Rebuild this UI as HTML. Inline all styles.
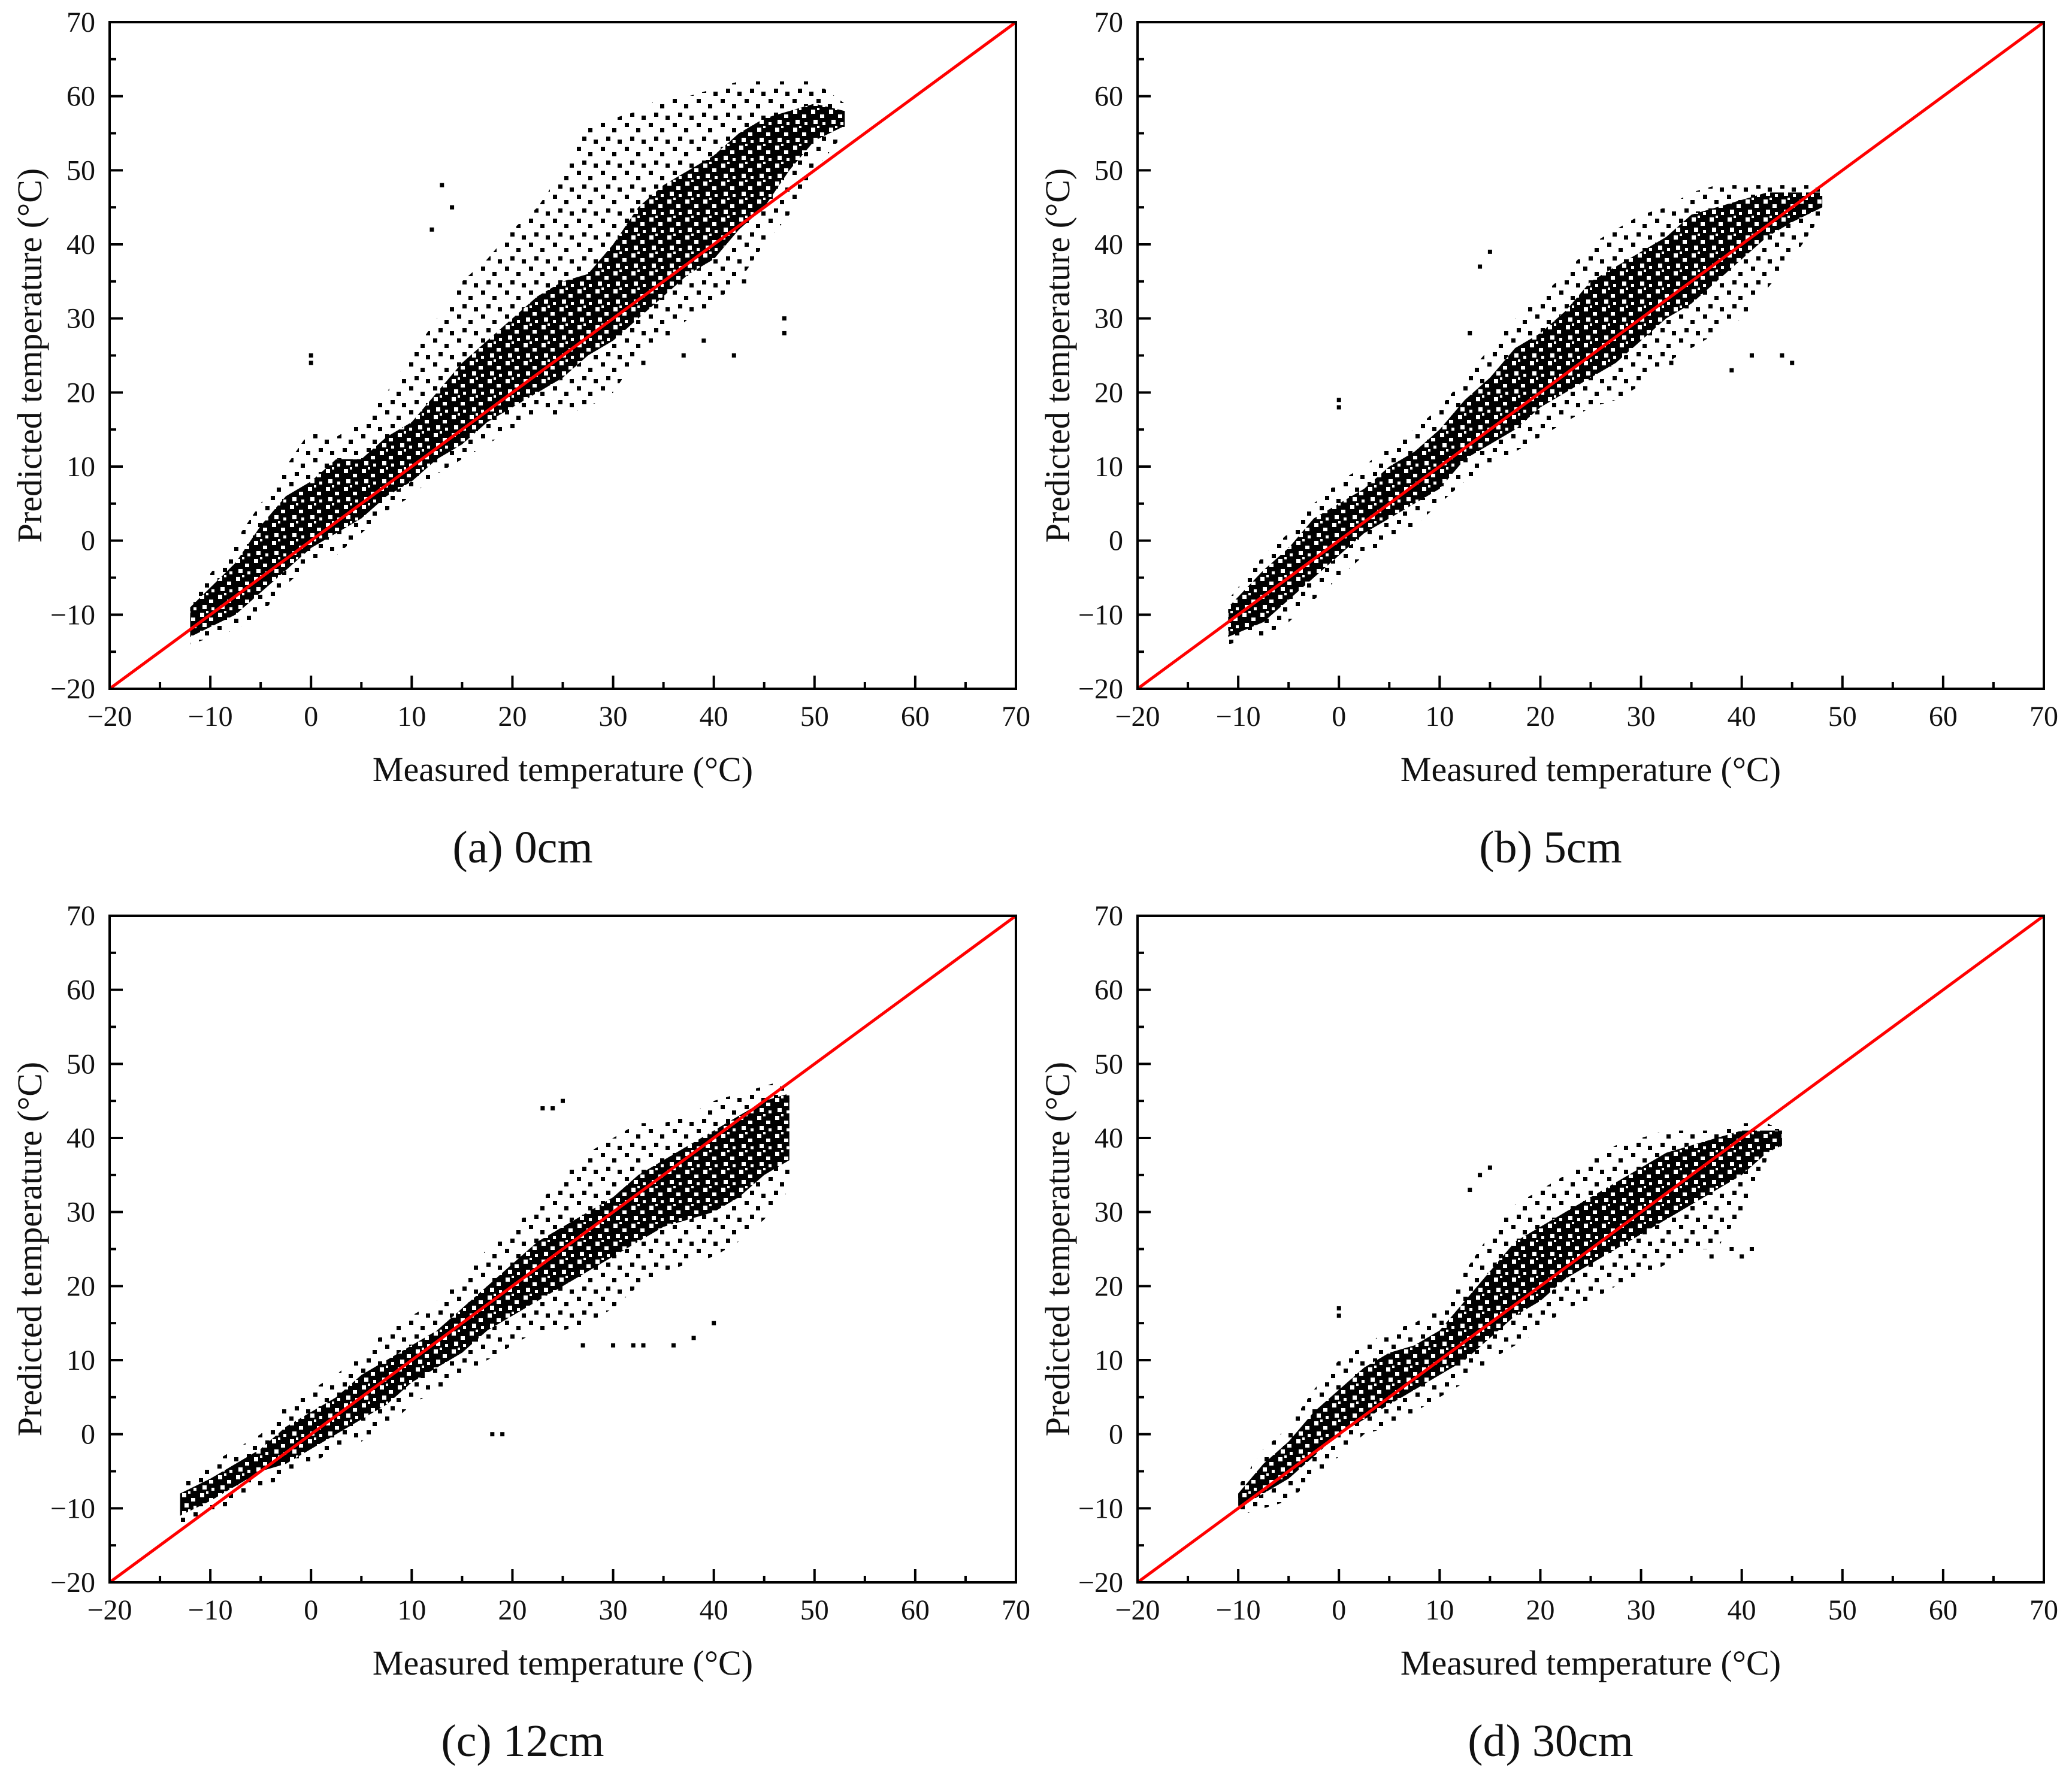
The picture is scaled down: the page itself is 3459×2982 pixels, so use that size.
<!DOCTYPE html>
<html><head><meta charset="utf-8">
<style>
html,body{margin:0;padding:0;background:#fff;}
svg{display:block;}
text{font-family:"Liberation Serif",serif;fill:#111;}
</style></head>
<body>
<svg id="fig" width="3459" height="2982" viewBox="0 0 3459 2982" xmlns="http://www.w3.org/2000/svg">
<defs>
<pattern id="sparse" width="40" height="40" patternUnits="userSpaceOnUse">
<rect x="3" y="5" width="7" height="7" fill="#000"/><rect x="22" y="14" width="7" height="7" fill="#000"/>
<rect x="12" y="28" width="7" height="7" fill="#000"/><rect x="31" y="33" width="7" height="7" fill="#000"/>
</pattern>
<pattern id="core" width="30" height="30" patternUnits="userSpaceOnUse">
<rect width="30" height="30" fill="#000"/>
<rect x="4" y="3" width="7" height="7" fill="#fff"/><rect x="19" y="11" width="7" height="6" fill="#fff"/>
<rect x="8" y="20" width="7" height="7" fill="#fff"/><rect x="23" y="24" width="5" height="5" fill="#fff"/>
<rect x="14" y="0" width="4" height="4" fill="#fff"/>
</pattern>
</defs>
</svg>
<script>
// Panel (a) 0cm
const aX    = [-12,-7.5,-5,-2.5,0,2.5,5,7.5,10,12.5,15,17.5,20,22.5,25,27.5,30,32.5,35,37.5,40,42.5,45,47.5,50,53];
const aCoreLo=[-13,-10,-7,-4,-1,1,3,6,8,11,13,16,18,20,22,25,27,30,33,36,38,42,45,50,54,56];
const aCoreHi=[-9,-3,2,6,8,11,11,14,16,20,24,27,30,33,35,36,40,45,48,50,52,55,57,58,59,58];
const aSpLo = [-14,-12,-10,-6,-3,-2,1,4,6,9,11,13,15,17,17,18,20,25,27,30,32,35,40,44,50,55];
const aSpHi = [-8,0,5,10,15,14,16,20,25,30,35,38,42,45,50,56,57,58,60,60,61,62,62,62,62,59];
const aOutX = [0,0,12,13,14,42,47,47,43,37,33,39];
const aOutY = [25,24,42,48,45,25,30,28,35,25,24,27];
// Panel (b) 5cm
const bX    = [-11,-7.5,-5,-2.5,0,2.5,5,7.5,10,12.5,15,17.5,20,22.5,25,27.5,30,32.5,35,37.5,40,42.5,45,48];
const bCoreLo=[-13,-11,-8,-5,-2,1,3,5,7,11,13,15,18,20,22,24,27,30,32,35,38,41,43,45];
const bCoreHi=[-9,-4,-1,3,5,7,10,12,15,19,22,26,28,31,35,37,39,41,44,45,46,47,47,47];
const bSpLo = [-14,-13,-11,-8,-5,-2,0,2,5,8,10,12,14,16,18,19,21,24,26,28,30,34,38,44];
const bSpHi = [-8,-2,1,5,8,10,13,15,18,22,26,30,33,36,40,42,44,45,47,48,48,48,48,48];
const bOutX = [0,0,14,15,13,44,45,39,41,33];
const bOutY = [19,18,37,39,28,25,24,23,25,24];
// Panel (c) 12cm
const cX    = [-13,-10,-7.5,-5,-2.5,0,2.5,5,7.5,10,12.5,15,17.5,20,22.5,25,27.5,30,32.5,35,37.5,40,42.5,45,47.5];
const cCoreLo=[-11,-9,-7,-5,-4,-2,0,2,4,7,9,11,14,16,18,20,22,24,26,28,29,30,32,35,37];
const cCoreHi=[-8,-6,-4,-2,1,3,5,8,10,12,14,17,20,23,26,28,30,32,35,37,39,41,43,45,46];
const cSpLo = [-12,-11,-9,-7,-6,-4,-2,-1,1,4,6,8,10,12,14,14,15,17,20,22,23,24,26,29,33];
const cSpHi = [-6,-4,-2,0,4,6,8,11,14,16,18,21,25,28,31,35,38,40,42,42,43,45,46,47,48];
const cOutX = [18,19,24,25,27,30,32,33,36,38,40,23];
const cOutY = [0,0,44,45,12,12,12,12,12,13,15,44];
// Panel (d) 30cm
const dX    = [-10,-7.5,-5,-2.5,0,2.5,5,7.5,10,12.5,15,17.5,20,22.5,25,27.5,30,32.5,35,37.5,40,42.5,44];
const dCoreLo=[-10,-8,-6,-3,0,2,4,6,8,10,13,16,18,21,23,25,27,29,31,33,35,38,39];
const dCoreHi=[-8,-4,-1,3,6,9,11,12,14,18,22,26,28,30,32,34,36,38,39,40,41,41,41];
const dSpLo = [-11,-10,-9,-6,-3,0,1,3,5,7,10,12,14,17,18,20,21,23,25,25,30,37,39];
const dSpHi = [-7,-2,1,6,10,12,14,15,17,22,27,31,33,35,37,39,40,41,41,41,42,42,41];
const dOutX = [0,0,13,14,15,39,40,41,37];
const dOutY = [17,16,33,35,36,25,24,25,24];

const yTicks = [-20,-10,0,10,20,30,40,50,60,70];
const xTicks = [-20,-10,0,10,20,30,40,50,60,70];
const tickText = ["\u221220","\u221210","0","10","20","30","40","50","60","70"];
const captions = ["(a) 0cm","(b) 5cm","(c) 12cm","(d) 30cm"];

const NS="http://www.w3.org/2000/svg";
const svg=document.getElementById('fig');
function mk(tag,attrs,parent){const e=document.createElementNS(NS,tag);for(const k in attrs)e.setAttribute(k,attrs[k]);(parent||svg).appendChild(e);return e;}

const W=1513,H=1113,VMIN=-20,VMAX=70;
const panels=[
 {L:183,T:37,x:aX,cl:aCoreLo,ch:aCoreHi,sl:aSpLo,sh:aSpHi,ox:aOutX,oy:aOutY,name:'panel-0cm'},
 {L:1899,T:37,x:bX,cl:bCoreLo,ch:bCoreHi,sl:bSpLo,sh:bSpHi,ox:bOutX,oy:bOutY,name:'panel-5cm'},
 {L:183,T:1529,x:cX,cl:cCoreLo,ch:cCoreHi,sl:cSpLo,sh:cSpHi,ox:cOutX,oy:cOutY,name:'panel-12cm'},
 {L:1899,T:1529,x:dX,cl:dCoreLo,ch:dCoreHi,sl:dSpLo,sh:dSpHi,ox:dOutX,oy:dOutY,name:'panel-30cm'}
];

panels.forEach((p,i)=>{
 const sx=v=>p.L+(v-VMIN)/(VMAX-VMIN)*W;
 const sy=v=>p.T+(VMAX-v)/(VMAX-VMIN)*H;
 const g=mk('g',{});
 
 
 function band(lo,hi,fill,nm){
  let pts=[];
  for(let k=0;k<p.x.length;k++)pts.push(sx(p.x[k])+','+sy(hi[k]));
  for(let k=p.x.length-1;k>=0;k--)pts.push(sx(p.x[k])+','+sy(lo[k]));
  const e=mk('polygon',{points:pts.join(' '),fill:fill},g);
  
  
 }
 band(p.sl,p.sh,'url(#sparse)','scatter-sparse');
 band(p.cl,p.ch,'url(#core)','scatter-core');
 for(let k=0;k<p.ox.length;k++){
  const r=mk('rect',{x:sx(p.ox[k])-3.5,y:sy(p.oy[k])-3.5,width:7,height:7,fill:'#000'},g);
  
  
 }
 const ln=mk('line',{x1:sx(VMIN),y1:sy(VMIN),x2:sx(VMAX),y2:sy(VMAX),stroke:'#f00','stroke-width':5},g);
 
 
 const fr=mk('rect',{x:p.L,y:p.T,width:W,height:H,fill:'none',stroke:'#000','stroke-width':4},g);
 
 
 for(let v=VMIN;v<=VMAX;v+=5){
  const major=(v%10===0), len=major?22:11;
  mk('line',{x1:p.L,y1:sy(v),x2:p.L+len,y2:sy(v),stroke:'#000','stroke-width':4},g);
  mk('line',{x1:sx(v),y1:p.T+H,x2:sx(v),y2:p.T+H-len,stroke:'#000','stroke-width':4},g);
 }
 yTicks.forEach((v,k)=>{
  const t=mk('text',{x:p.L-24,y:sy(v)+16,'text-anchor':'end','font-size':48},g);
  t.textContent=tickText[k];
  
  
 });
 xTicks.forEach((v,k)=>{
  const t=mk('text',{x:sx(v),y:p.T+H+62,'text-anchor':'middle','font-size':48},g);
  t.textContent=tickText[k];
  
  
 });
 const xt=mk('text',{x:p.L+W/2,y:p.T+H+154,'text-anchor':'middle','font-size':58},g);
 xt.textContent='Measured temperature (\u00B0C)';
 
 
 const yx=p.L-114, yy=p.T+H/2;
 const yt=mk('text',{x:yx,y:yy,'text-anchor':'middle','font-size':58,transform:'rotate(-90 '+yx+' '+yy+')'},g);
 yt.textContent='Predicted temperature (\u00B0C)';
 
 
 const cap=mk('text',{x:p.L+W/2-67,y:p.T+H+290,'text-anchor':'middle','font-size':76},g);
 cap.textContent=captions[i];
 
 
});
</script>
</body></html>
